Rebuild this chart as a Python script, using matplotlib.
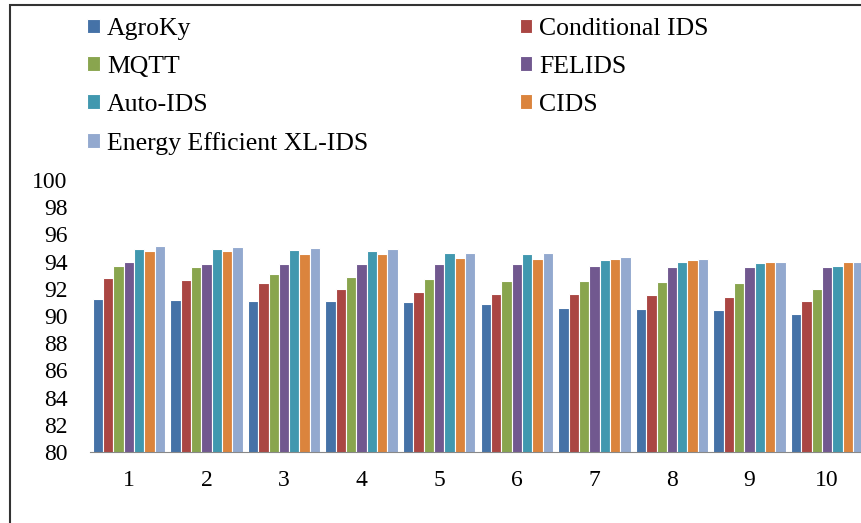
import matplotlib.pyplot as plt
import matplotlib.patches as mpatches
import numpy as np

plt.rcParams['font.family'] = ['Liberation Serif', 'DejaVu Serif']

# x axis groups
groups = ['1', '2', '3', '4', '5', '6', '7', '8', '9', '10']

# scores per method
agroky      = [91.27, 91.19, 91.12, 91.09, 91.00, 90.85, 90.60, 90.53, 90.43, 90.13]
conditional = [92.82, 92.64, 92.45, 91.98, 91.76, 91.61, 91.61, 91.56, 91.37, 91.12]
mqtt        = [93.68, 93.63, 93.11, 92.84, 92.74, 92.60, 92.55, 92.50, 92.45, 91.98]
felids      = [93.95, 93.85, 93.82, 93.82, 93.80, 93.80, 93.70, 93.63, 93.63, 93.58]
auto_ids    = [94.96, 94.91, 94.86, 94.76, 94.61, 94.54, 94.10, 93.95, 93.87, 93.70]
cids        = [94.81, 94.76, 94.59, 94.54, 94.29, 94.19, 94.17, 94.10, 94.00, 93.95]
xl_ids      = [95.13, 95.10, 95.00, 94.96, 94.66, 94.61, 94.34, 94.19, 94.00, 94.00]

names = ['AgroKy', 'Conditional IDS', 'MQTT', 'FELIDS', 'Auto-IDS', 'CIDS',
         'Energy Efficient XL-IDS']
series = [agroky, conditional, mqtt, felids, auto_ids, cids, xl_ids]
colors = ['#4572A7', '#AA4643', '#89A54E', '#71588F', '#4198AF', '#DB843D', '#93A9CF']

fig = plt.figure(figsize=(8.62, 5.23), dpi=100)
ax = fig.add_axes([90 / 862, 1 - 452 / 523, 776 / 862, 272 / 523])

x = np.arange(len(groups))
w = 0.133
handles = []
for i, (vals, c, n) in enumerate(zip(series, colors, names)):
    b = ax.bar(x + (i - 3) * w, vals, width=w, color=c, edgecolor='white',
               linewidth=0.8, label=n)
    handles.append(b)

ax.set_xlim(-0.5, 9.5)
ax.set_ylim(80, 100)
ax.set_yticks(np.arange(80, 101, 2))
ax.set_xticks(x)
ax.set_xticklabels(groups)
ax.tick_params(axis='y', length=0, pad=16, labelsize=17)
ax.tick_params(axis='x', length=0, pad=13, labelsize=17)
for s in ['top', 'right', 'left']:
    ax.spines[s].set_visible(False)
ax.spines['bottom'].set_color('#888888')

# legend laid out column-wise, so reorder to read row by row
order = [0, 2, 4, 6, 1, 3, 5]
fig.legend([handles[k] for k in order], [names[k] for k in order], ncol=2,
           loc='upper left', bbox_to_anchor=(87 / 862, 1 - 18 / 523),
           frameon=False, fontsize=18.5, handlelength=0.5, handleheight=0.5,
           handletextpad=0.27, labelspacing=0.62, columnspacing=5.9,
           borderpad=0, borderaxespad=0)

# outer chart frame
fig.patches.append(mpatches.Rectangle((10 / 862, -0.05), 1, 1 - 5 / 523 + 0.05,
                                      transform=fig.transFigure, fill=False,
                                      edgecolor='#333333', linewidth=1.5))

fig.savefig('out.png', dpi=100)
